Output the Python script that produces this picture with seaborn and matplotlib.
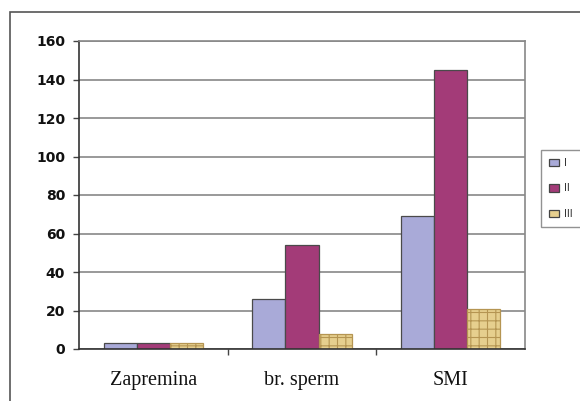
import matplotlib
matplotlib.use("Agg")
import matplotlib.pyplot as plt
from matplotlib.patches import Rectangle
import seaborn as sns
import pandas as pd

categories = ["Zapremina", "br. sperm", "SMI"]
series_names = ["I", "II", "III"]
values_I = [3, 26, 69]
values_II = [3, 54, 145]
values_III = [3, 8, 21]
y_ticks = [0, 20, 40, 60, 80, 100, 120, 140, 160]

colors = ["#a9aad8", "#a33b78", "#e6cf8e"]

rows = []
for name, vals in zip(series_names, [values_I, values_II, values_III]):
    for cat, v in zip(categories, vals):
        rows.append({"category": cat, "series": name, "value": v})
df = pd.DataFrame(rows)

sns.set_style("white")
plt.rcParams["hatch.linewidth"] = 0.8

W, H = 580, 401
fig = plt.figure(figsize=(W / 100, H / 100), dpi=100)
fig.patch.set_facecolor("white")

# outer frame around the chart
fig.patches.append(Rectangle((10 / W, -0.1), 1.2, 1 - 12 / H + 0.1,
                             transform=fig.transFigure, fill=False,
                             edgecolor="#555555", linewidth=1.2, zorder=0))

ax = fig.add_axes([79 / W, 1 - 349 / H, (525 - 79) / W, (349 - 41) / H])
sns.barplot(data=df, x="category", y="value", hue="series",
            palette=colors, width=0.667, edgecolor="#4a4a4a",
            linewidth=0.9, ax=ax, legend=True, saturation=1)

# textured fill for the third series
for bar in ax.containers[2]:
    bar.set_hatch("++")
    bar.set_edgecolor("#b59552")

ax.set_ylim(0, 160)
ax.set_xlim(-0.5, 2.5)
ax.set_yticks(y_ticks)
ax.set_yticklabels([str(t) for t in y_ticks], fontweight="bold",
                   fontsize=10, family="DejaVu Sans", color="#111111")
ax.yaxis.grid(True, color="#888888", linewidth=1.2)
ax.set_axisbelow(True)
ax.set_xlabel("")
ax.set_ylabel("")

# category labels below the axis, ticks between the groups
ax.set_xticks([0.5, 1.5], minor=False)
ax.set_xticklabels([])
ax.set_xticks([0, 1, 2], minor=True)
ax.set_xticklabels(categories, minor=True, family="Liberation Serif",
                   fontsize=14.5, color="#111111")
ax.tick_params(axis="x", which="major", length=4, width=1, color="#444444",
               direction="out", bottom=True)
ax.tick_params(axis="x", which="minor", length=0, pad=16)
ax.tick_params(axis="y", length=4, width=1, color="#444444", direction="out",
               left=True, pad=6)

for side in ["left", "bottom"]:
    ax.spines[side].set_color("#333333")
    ax.spines[side].set_linewidth(1.2)
for side in ["top", "right"]:
    ax.spines[side].set_color("#888888")
    ax.spines[side].set_linewidth(1.2)

leg = ax.legend(title=None, loc="upper left",
                bbox_to_anchor=(541 / W, 1 - 150 / H),
                bbox_transform=fig.transFigure, frameon=True,
                fontsize=7, handlelength=1.0, handleheight=0.8,
                handletextpad=0.6, labelspacing=1.6, borderpad=0.8,
                fancybox=False, borderaxespad=0)
leg.get_frame().set_edgecolor("#777777")
leg.get_frame().set_linewidth(1.0)
for h in leg.legend_handles:
    h.set_edgecolor("#444444")
    h.set_linewidth(0.9)

fig.savefig("out.png", dpi=100)
